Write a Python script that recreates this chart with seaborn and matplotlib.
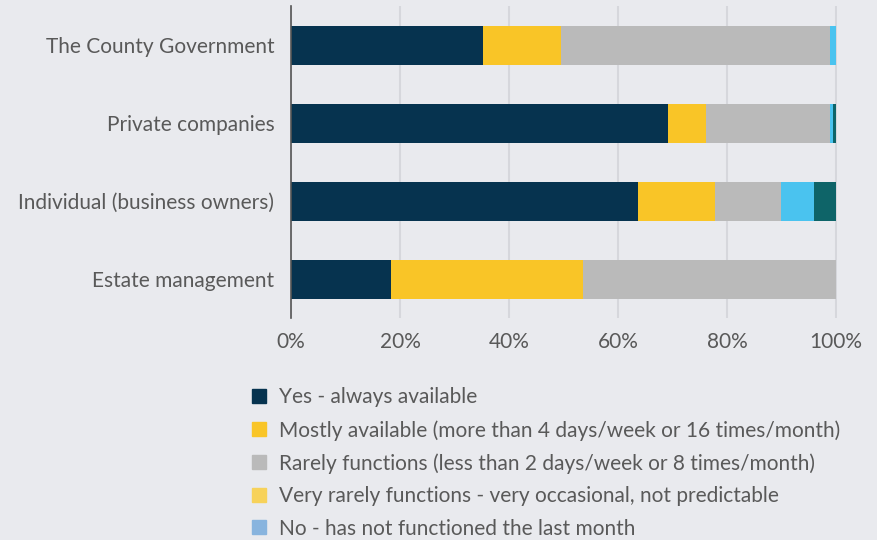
import matplotlib
matplotlib.use("Agg")
import matplotlib.pyplot as plt
from matplotlib.lines import Line2D
import seaborn as sns
import pandas as pd
import numpy as np

categories = ["The County Government", "Private companies",
              "Individual (business owners)", "Estate management"]
series_names = ["Yes - always available",
                "Mostly available (more than 4 days/week or 16 times/month)",
                "Rarely functions (less than 2 days/week or 8 times/month)",
                "Very rarely functions - very occasional, not predictable",
                "No - has not functioned the last month"]
yes_always = [35.2, 69.2, 63.6, 18.3]
mostly = [14.3, 7.0, 14.2, 35.2]
rarely = [49.5, 22.8, 12.1, 46.5]
very_rarely = [1.0, 0.5, 6.1, 0.0]
no_function = [0.0, 0.5, 4.0, 0.0]
xticks = [0, 20, 40, 60, 80, 100]
xtick_labels = ["0%", "20%", "40%", "60%", "80%", "100%"]

bar_colors = ["#06334f", "#f9c527", "#bababa", "#4ac3ef", "#0e6468"]
legend_colors = ["#06334f", "#f9c527", "#bababa", "#f7d25a", "#88b4de"]

bg = "#e9eaee"
text_col = "#595959"

sns.set_theme(style="white")
plt.rcParams["font.family"] = ["Lato", "DejaVu Sans"]

series = [yes_always, mostly, rarely, very_rarely, no_function]
cum = np.cumsum(np.array(series), axis=0)

fig = plt.figure(figsize=(8.77, 5.40), dpi=100, facecolor=bg)
ax = fig.add_axes([291/877, 1-318/540, (837-291)/877, (318-6)/540])
ax.set_facecolor(bg)

for x in xticks:
    ax.axvline(x, color="#d6d7dc", lw=1.5, zorder=0)

for i in range(len(series) - 1, -1, -1):
    df = pd.DataFrame({"category": categories, "value": cum[i]})
    sns.barplot(data=df, y="category", x="value", color=bar_colors[i],
                orient="h", width=0.5, saturation=1, ax=ax, zorder=2,
                linewidth=0)

ax.set_xlim(0, 100.2)
ax.set_ylim(3.5, -0.5)
ax.set_xticks(xticks)
ax.set_xticklabels(xtick_labels, color=text_col, fontsize=15)
ax.tick_params(axis="y", labelcolor=text_col, labelsize=15, length=0, pad=12)
ax.tick_params(axis="x", length=0, pad=10)
ax.set_xlabel("")
ax.set_ylabel("")
for s in ["top", "right", "bottom"]:
    ax.spines[s].set_visible(False)
ax.spines["left"].set_color("#555555")
ax.spines["left"].set_linewidth(1.2)
ax.spines["left"].set_zorder(3)

handles = [Line2D([0], [0], marker="s", linestyle="none", markersize=10,
                  markerfacecolor=c, markeredgecolor=c) for c in legend_colors]
leg = fig.legend(handles, series_names, loc="upper left",
                 bbox_to_anchor=(238/877, 1-377/540), frameon=False,
                 fontsize=15, labelcolor=text_col, handlelength=1.0,
                 handletextpad=0.45, labelspacing=0.6, borderpad=0)

fig.savefig("out.png", dpi=100, facecolor=bg)
